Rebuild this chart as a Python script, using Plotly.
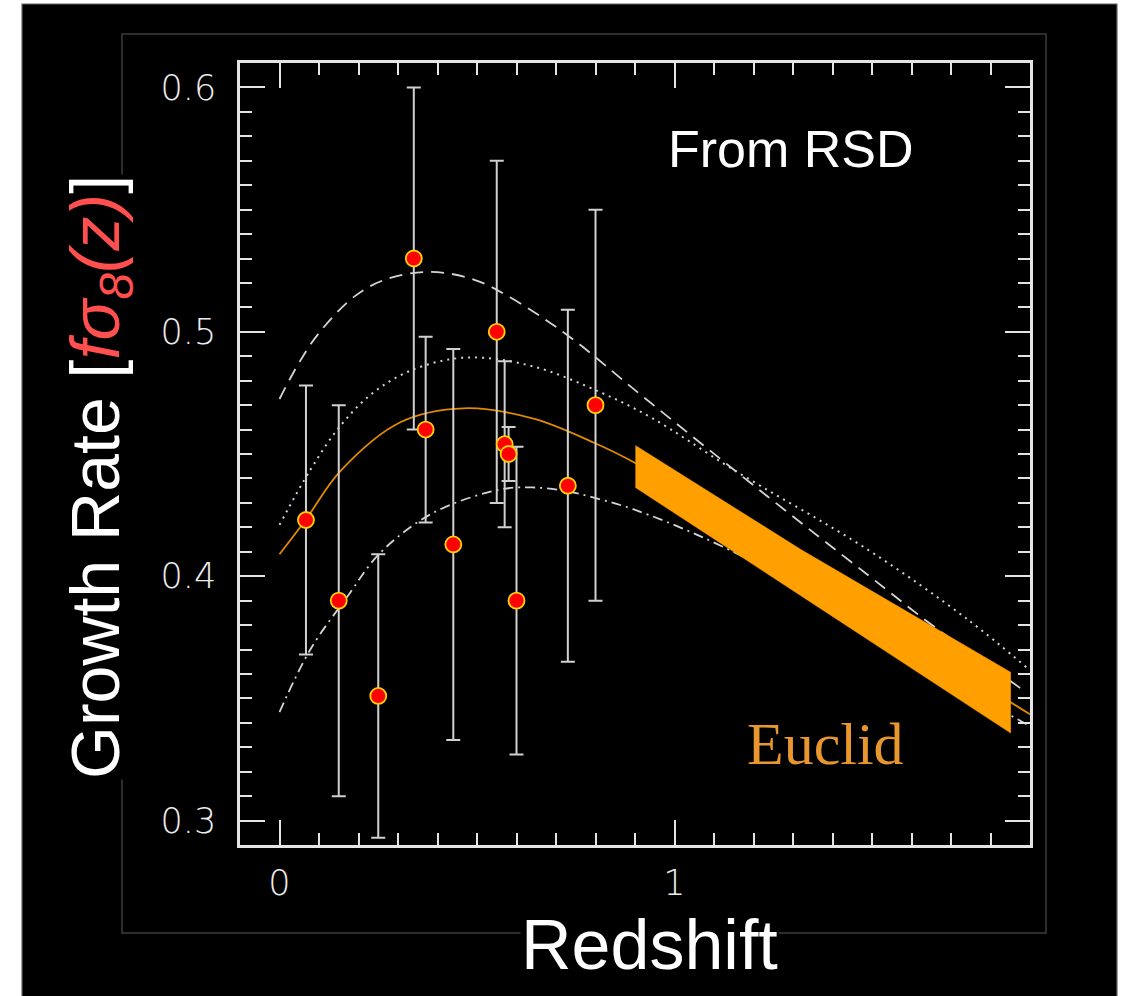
import plotly.graph_objects as go

# ---------------- data ----------------
data_z = [0.067, 0.15, 0.25, 0.34, 0.37, 0.44, 0.55, 0.57, 0.58, 0.60, 0.73, 0.80]
data_fs8 = [0.423, 0.390, 0.351, 0.530, 0.460, 0.413, 0.500, 0.454, 0.450, 0.390, 0.437, 0.470]
data_err = [0.055, 0.080, 0.058, 0.070, 0.038, 0.080, 0.070, 0.034, 0.011, 0.063, 0.072, 0.080]

lcdm_z = [0.0, 0.066, 0.154, 0.306, 0.466, 0.643, 0.795, 0.897, 1.2, 1.5, 1.9]
lcdm_fs8 = [0.409, 0.423, 0.443, 0.463, 0.4687, 0.4645, 0.4547, 0.4466, 0.416, 0.384, 0.3435]

dashed_z = [0.0, 0.05, 0.1, 0.19, 0.27, 0.38, 0.49, 0.59, 0.73, 0.92, 1.235, 1.488, 1.656, 1.89]
dashed_fs8 = [0.4725, 0.4875, 0.4995, 0.5145, 0.5215, 0.5245, 0.5215, 0.5135, 0.4985, 0.4735,
              0.4327, 0.4007, 0.3795, 0.3526]

dotted_z = [0.0, 0.078, 0.154, 0.238, 0.339, 0.475, 0.643, 0.813, 0.94, 1.15, 1.488, 1.742, 1.896]
dotted_fs8 = [0.421, 0.4435, 0.4615, 0.4752, 0.4846, 0.4895, 0.4858, 0.4752, 0.465, 0.4435,
              0.411, 0.3823, 0.362]

dashdot_z = [0.0, 0.078, 0.172, 0.256, 0.39, 0.56, 0.643, 0.729, 0.813, 0.897, 1.066, 1.319,
             1.572, 1.896]
dashdot_fs8 = [0.3444, 0.370, 0.3917, 0.4097, 0.426, 0.4355, 0.4363, 0.4347, 0.4314, 0.4273,
               0.4163, 0.3955, 0.3689, 0.339]

euclid_z = [0.901, 1.319, 1.851]
euclid_upper = [0.4535, 0.4110, 0.3607]
euclid_lower = [0.4363, 0.3921, 0.3358]

x_tick_vals = [0, 1]
x_tick_text = ["0", "1"]
y_tick_vals = [0.3, 0.4, 0.5, 0.6]
y_tick_text = ["0.3", "0.4", "0.5", "0.6"]

# ---------------- figure ----------------
fig = go.Figure()

curve_col = "#d4d4d4"
fig.add_trace(go.Scatter(x=dashed_z, y=dashed_fs8, mode="lines", line_shape="spline",
                         line=dict(color=curve_col, width=1.8, dash="13px,8px")))
fig.add_trace(go.Scatter(x=dotted_z, y=dotted_fs8, mode="lines", line_shape="spline",
                         line=dict(color=curve_col, width=2, dash="2px,5px")))
fig.add_trace(go.Scatter(x=dashdot_z, y=dashdot_fs8, mode="lines", line_shape="spline",
                         line=dict(color=curve_col, width=1.8, dash="10px,5px,2px,5px")))
fig.add_trace(go.Scatter(x=lcdm_z, y=lcdm_fs8, mode="lines", line_shape="spline",
                         line=dict(color="#e08a00", width=1.8)))

# Euclid band
fig.add_trace(go.Scatter(x=euclid_z + euclid_z[::-1], y=euclid_upper + euclid_lower[::-1],
                         mode="lines", fill="toself", fillcolor="#ffa000",
                         line=dict(color="#ffa000", width=0.5)))

# data points
fig.add_trace(go.Scatter(x=data_z, y=data_fs8, mode="markers",
                         marker=dict(color="#ff0000", size=16,
                                     line=dict(color="#ffd400", width=1.8)),
                         error_y=dict(type="data", array=data_err, color="#d0d0d0",
                                      thickness=2, width=7)))

tick_font = dict(family="DejaVu Sans", size=35, color="#ececec", weight=200)
axis_common = dict(showgrid=False, zeroline=False, showline=True, linecolor="#e4e4e4",
                   linewidth=2.5, mirror="allticks", ticks="inside", ticklen=25,
                   tickwidth=2, tickcolor="#e4e4e4", tickfont=tick_font)

fig.update_xaxes(range=[-0.1, 1.9], tickvals=x_tick_vals, ticktext=x_tick_text,
                 ticklabelstandoff=5,
                 minor=dict(dtick=0.1, tick0=0, ticks="inside", ticklen=12, tickwidth=1.6,
                            tickcolor="#e4e4e4"),
                 **axis_common)
fig.update_yaxes(range=[0.29, 0.61], tickvals=y_tick_vals, ticktext=y_tick_text,
                 ticklabelstandoff=14,
                 minor=dict(dtick=0.01, tick0=0, ticks="inside", ticklen=12, tickwidth=1.6,
                            tickcolor="#e4e4e4"),
                 **axis_common)

W, H = 1125, 996
L, R, T, B = 240, 95, 63, 151
pw, ph = W - L - R, H - T - B


def px_x(p):
    return (p - L) / pw


def px_y(p):
    return (H - B - p) / ph


shapes = [
    dict(type="rect", xref="paper", yref="paper", layer="below",
         x0=px_x(22), x1=px_x(1117), y0=px_y(996.5), y1=px_y(4),
         fillcolor="black", line=dict(color="#666666", width=1.2)),
    dict(type="rect", xref="paper", yref="paper", layer="below",
         x0=px_x(122), x1=px_x(1046), y0=px_y(933), y1=px_y(34),
         fillcolor="rgba(0,0,0,0)", line=dict(color="#3c3c3c", width=1.5)),
]

annotations = [
    dict(text="From RSD", x=1.296, y=0.575, xref="x", yref="y", showarrow=False,
         xanchor="center", yanchor="middle",
         font=dict(family="Liberation Sans, Arial", size=52, color="white")),
    dict(text="Euclid", x=1.382, y=0.3313, xref="x", yref="y", showarrow=False,
         xanchor="center", yanchor="middle",
         font=dict(family="Liberation Serif, Times New Roman", size=60, color="#e8962e")),
    dict(text="Redshift", x=px_x(649), y=px_y(945), xref="paper", yref="paper",
         xanchor="center", yanchor="middle",
         showarrow=False, bgcolor="black", borderpad=0,
         font=dict(family="Liberation Sans, Arial", size=70, color="white")),
    dict(text="Growth Rate [<span style='color:#ff4f4f'><i>fσ<sub>8</sub>(z)</i></span>]",
         x=px_x(100), y=px_y(477), xref="paper", yref="paper", textangle=-90,
         xanchor="center", yanchor="middle",
         showarrow=False, bgcolor="black", borderpad=0,
         font=dict(family="Liberation Sans, Arial", size=68, color="white")),
]

fig.update_layout(width=W, height=H, margin=dict(l=L, r=R, t=T, b=B),
                  paper_bgcolor="white", plot_bgcolor="black", showlegend=False,
                  shapes=shapes, annotations=annotations)

fig.write_html("out.html")
